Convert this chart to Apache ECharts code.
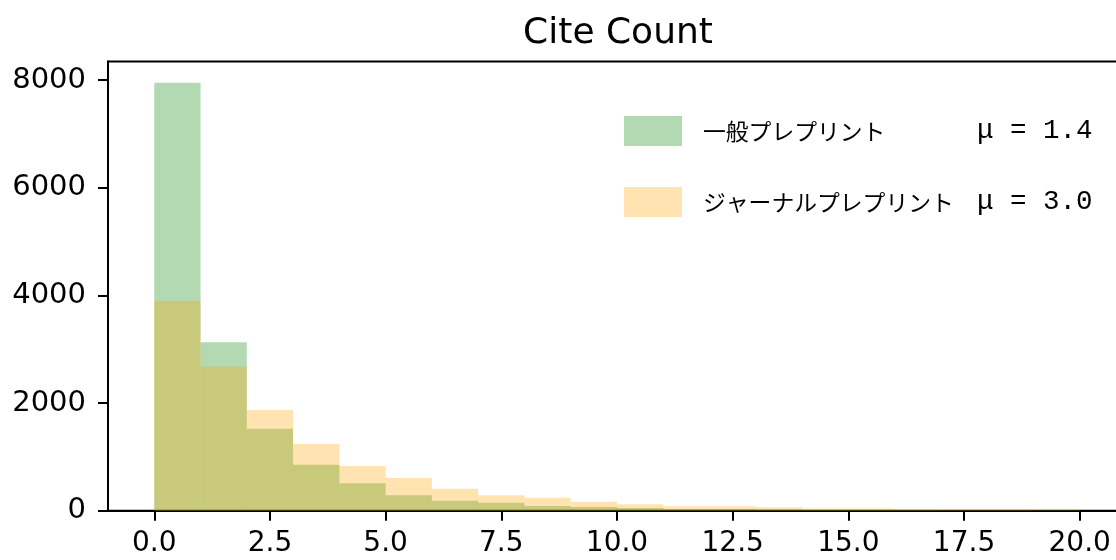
<!DOCTYPE html>
<html>
<head>
<meta charset="utf-8">
<script src="https://cdn.jsdelivr.net/npm/echarts@6/dist/echarts.min.js"></script>
<style>html,body{margin:0;padding:0;background:#fff;}#c{width:1116px;height:560px;}</style>
</head>
<body>
<div id="c"></div>
<script>
const titleText = 'Cite Count';
const binEdges = [0,1,2,3,4,5,6,7,8,9,10,11,12,13,14,15,16,17,18,19,20];
const seriesNames = ['一般プレプリント', 'ジャーナルプレプリント'];
const seriesMeans = ['1.4', '3.0'];
const generalCounts = [7950, 3130, 1523, 854, 508, 288, 186, 149, 85, 70, 50, 32, 30, 20, 14, 12, 8, 6, 5, 4];
const journalCounts = [3900, 2680, 1870, 1240, 830, 607, 409, 286, 240, 165, 122, 84, 84, 66, 40, 40, 15, 15, 12, 10];
const xTickValues = [0, 2.5, 5, 7.5, 10, 12.5, 15, 17.5, 20];
const xTickLabels = ['0.0', '2.5', '5.0', '7.5', '10.0', '12.5', '15.0', '17.5', '20.0'];
const yTickValues = [0, 2000, 4000, 6000, 8000];
const yTickLabels = ['0', '2000', '4000', '6000', '8000'];

const colors = ['rgba(0,128,0,0.3)', 'rgba(255,165,0,0.3)'];

function toBins(counts) {
  return counts.map((c, i) => [binEdges[i], binEdges[i + 1], c]);
}

function histSeries(name, counts, color) {
  return {
    name: name,
    type: 'custom',
    itemStyle: { color: color },
    encode: { x: [0, 1], y: 2 },
    data: toBins(counts),
    renderItem: function (params, api) {
      const p0 = api.coord([api.value(0), api.value(2)]);
      const p1 = api.coord([api.value(1), 0]);
      return {
        type: 'rect',
        shape: { x: p0[0], y: p0[1], width: p1[0] - p0[0], height: p1[1] - p0[1] },
        style: { fill: color }
      };
    }
  };
}

const chart = echarts.init(document.getElementById('c'), null, { renderer: 'canvas' });
const meanOf = {};
seriesNames.forEach((n, i) => { meanOf[n] = seriesMeans[i]; });

chart.setOption({
  animation: false,
  backgroundColor: '#fff',
  title: {
    text: titleText,
    left: 613,
    top: 11,
    textAlign: 'center',
    textStyle: { fontFamily: 'DejaVu Sans', fontSize: 36, fontWeight: 'normal', color: '#000' }
  },
  legend: {
    orient: 'vertical',
    left: 624,
    top: 116,
    padding: 0,
    itemWidth: 58,
    itemHeight: 30,
    itemGap: 41,
    icon: 'rect',
    data: seriesNames,
    formatter: function (name) {
      return '{n|' + name + '}{m|μ = ' + meanOf[name] + '}';
    },
    textStyle: {
      rich: {
        n: { fontFamily: 'Noto Sans CJK JP', fontSize: 22.8, color: '#000', width: 274, padding: [0, 0, 0, 16] },
        m: { fontFamily: 'Liberation Mono', fontSize: 27.5, color: '#000' }
      }
    }
  },
  grid: {
    left: 108, width: 1018, top: 61.5, bottom: 49.3,
    outerBoundsMode: 'none',
    containLabel: false,
    show: true, borderColor: '#000', borderWidth: 2, backgroundColor: 'transparent'
  },
  xAxis: {
    type: 'value',
    min: -1, max: 21,
    splitLine: { show: false },
    axisLine: { show: true, onZero: false, lineStyle: { color: '#000', width: 2 } },
    axisTick: { show: true, inside: false, length: 10, lineStyle: { color: '#000', width: 2 }, customValues: xTickValues },
    axisLabel: {
      customValues: xTickValues,
      formatter: function (v) { return xTickLabels[xTickValues.indexOf(v)]; },
      fontFamily: 'DejaVu Sans', fontSize: 28, color: '#000', margin: 19
    }
  },
  yAxis: {
    type: 'value',
    min: 0, max: 8345,
    splitLine: { show: false },
    axisLine: { show: true, onZero: false, lineStyle: { color: '#000', width: 2 } },
    axisTick: { show: true, inside: false, length: 10, lineStyle: { color: '#000', width: 2 }, customValues: yTickValues },
    axisLabel: {
      customValues: yTickValues,
      formatter: function (v) { return yTickLabels[yTickValues.indexOf(v)]; },
      fontFamily: 'DejaVu Sans', fontSize: 29, color: '#000', margin: 22
    }
  },
  series: [
    histSeries(seriesNames[0], generalCounts, colors[0]),
    histSeries(seriesNames[1], journalCounts, colors[1])
  ]
});
</script>
</body>
</html>
